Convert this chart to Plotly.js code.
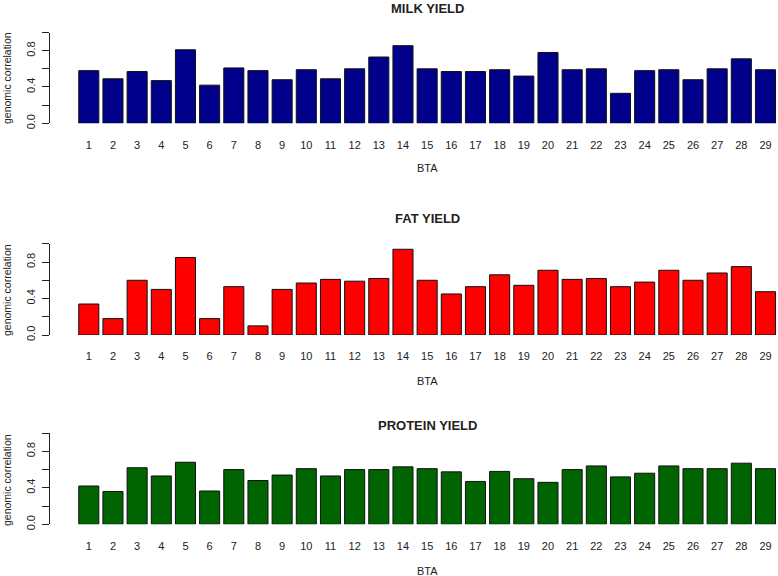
<!DOCTYPE html>
<html>
<head>
<meta charset="utf-8">
<script src="https://cdn.plot.ly/plotly-3.0.1.min.js"></script>
<style>html,body{margin:0;padding:0;background:#fff;}#chart{width:778px;height:576px;}</style>
</head>
<body>
<div id="chart"></div>
<script>
// ---- data ----
var bta = [1,2,3,4,5,6,7,8,9,10,11,12,13,14,15,16,17,18,19,20,21,22,23,24,25,26,27,28,29];
var milkYield = [0.58,0.49,0.57,0.47,0.81,0.42,0.61,0.58,0.48,0.59,0.49,0.60,0.73,0.855,0.60,0.57,0.57,0.59,0.52,0.78,0.59,0.60,0.33,0.58,0.59,0.48,0.60,0.71,0.59];
var fatYield = [0.34,0.18,0.60,0.50,0.85,0.18,0.53,0.10,0.50,0.57,0.61,0.59,0.62,0.94,0.60,0.45,0.53,0.66,0.545,0.71,0.61,0.62,0.53,0.58,0.71,0.60,0.68,0.75,0.475];
var proteinYield = [0.42,0.36,0.62,0.53,0.68,0.365,0.60,0.48,0.54,0.61,0.53,0.60,0.60,0.63,0.61,0.575,0.47,0.58,0.50,0.46,0.60,0.64,0.52,0.56,0.64,0.61,0.61,0.67,0.61];
var panelTitles = ["MILK YIELD", "FAT YIELD", "PROTEIN YIELD"];
var panelColors = ["#00008B", "#FF0000", "#006400"];
var xTitle = "BTA";
var yTitle = "genomic correlation";
var yTickVals = [0, 0.2, 0.4, 0.6, 0.8, 1.0];
var yTickText = ["0.0", "", "0.4", "", "0.8", ""];

// ---- layout geometry (pixels) ----
var H = 576;
function py(p){ return 1 - p / H; }
var zeroPx = [123.3, 335.0, 524.3];
var onePx  = [32.5, 243.8, 433.1];
var titlePx = [8.5, 218.3, 425.0];
var btaPx = [168.3, 380.5, 570.7];
var yTitlePx = [78, 290, 480];

var series = [milkYield, fatYield, proteinYield];
var FONT = "Liberation Sans, Arial, Helvetica, sans-serif";
var txt = "#222";

var traces = [];
var layout = {
  width: 778, height: 576,
  margin: {l: 50, r: 0, t: 0, b: 0},
  paper_bgcolor: "#fff", plot_bgcolor: "#fff",
  showlegend: false,
  bargap: 0.17,
  font: {family: FONT, size: 11, color: txt},
  annotations: []
};

for (var i = 0; i < 3; i++) {
  var sx = i === 0 ? "" : String(i + 1);
  traces.push({
    type: "bar", x: bta, y: series[i],
    xaxis: "x" + sx, yaxis: "y" + sx,
    marker: {color: panelColors[i], line: {color: "#111", width: 1}},
    hoverinfo: "x+y"
  });
  layout["xaxis" + sx] = {
    domain: [0, 1], anchor: "y" + sx,
    range: [-0.605, 29.517],
    tickmode: "array", tickvals: bta, ticktext: bta.map(String),
    ticks: "outside", ticklen: 11, tickcolor: "rgba(0,0,0,0)",
    showline: false, showgrid: false, zeroline: false,
    tickfont: {family: FONT, size: 11, color: txt}
  };
  layout["yaxis" + sx] = {
    domain: [py(zeroPx[i]), py(onePx[i])], anchor: "x" + sx,
    range: [0, 1],
    tickmode: "array", tickvals: yTickVals, ticktext: yTickText,
    tickangle: -90,
    ticks: "outside", ticklen: 7, tickcolor: "#222", tickwidth: 1,
    ticklabelstandoff: 3,
    showline: true, linecolor: "#222", linewidth: 1,
    showgrid: false, zeroline: false,
    tickfont: {family: FONT, size: 11, color: txt}
  };
  layout.annotations.push({
    text: "<b>" + panelTitles[i] + "</b>", xref: "x" + sx, x: 15,
    yref: "paper", y: py(titlePx[i]), yanchor: "middle", xanchor: "center",
    showarrow: false, font: {family: FONT, size: 13, color: txt}
  });
  layout.annotations.push({
    text: xTitle, xref: "x" + sx, x: 15,
    yref: "paper", y: py(btaPx[i]), yanchor: "middle", xanchor: "center",
    showarrow: false, font: {family: FONT, size: 11, color: txt}
  });
  layout.annotations.push({
    text: yTitle, xref: "paper", x: 7 / 728 - 50 / 728, xanchor: "center",
    yref: "paper", y: py(yTitlePx[i]), yanchor: "middle", textangle: -90,
    showarrow: false, font: {family: FONT, size: 10.5, color: txt}
  });
}

Plotly.newPlot("chart", traces, layout, {displayModeBar: false, staticPlot: true});
</script>
</body>
</html>
